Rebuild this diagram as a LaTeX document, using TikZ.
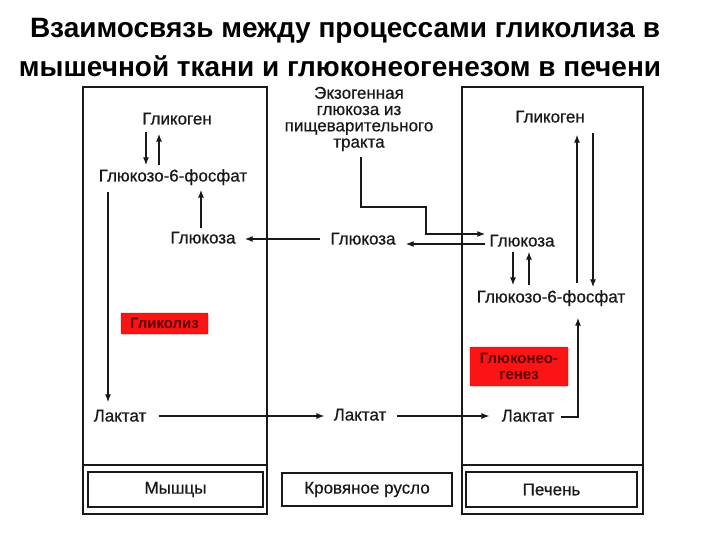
\documentclass[tikz,border=0pt]{standalone}
\usepackage{fontspec}
\setmainfont{Liberation Sans}
\newfontface\heavyface{Liberation Sans}[FakeBold=0.6]
\usetikzlibrary{arrows.meta}
\definecolor{inkc}{RGB}{25,25,25}
\definecolor{redfill}{RGB}{250,20,20}
\definecolor{redtext}{RGB}{95,0,0}
\begin{document}
\begin{tikzpicture}[x=1pt,y=-1pt,
  lbl/.style={font=\heavyface\fontsize{17}{17}\selectfont, text=inkc, inner sep=0pt, text height=12pt, text depth=3pt},
  ttl/.style={font=\bfseries\fontsize{28}{28}\selectfont, inner sep=0pt},
  arr/.style={draw=inkc, line width=1.2pt, -{Latex[length=8pt,width=6pt]}},
  panel/.style={draw=inkc, line width=1.7pt, inner sep=0pt},
  namebox/.style={draw=inkc, line width=1.4pt, inner sep=0pt, font=\heavyface\fontsize{17}{17}\selectfont, text=inkc},
  redbox/.style={fill=redfill, draw=red!80!black, line width=0.4pt, rounded corners=1pt, text=redtext, font=\bfseries\fontsize{15}{16}\selectfont, align=center, inner sep=0pt}
]
\useasboundingbox (0,0) rectangle (720,540);
\fill[white] (0,0) rectangle (720,540);

% title
\node[ttl] (t1) at (345,31) {Взаимосвязь между процессами гликолиза в};
\node[ttl] (t2) at (340,66) {мышечной ткани и глюконеогенезом в печени};

% panels
\node[panel, minimum width=184pt, minimum height=427pt] (lpanel) at (175,300.5) {};
\node[panel, minimum width=181pt, minimum height=427pt] (rpanel) at (552.5,300.5) {};
\draw[panel] (lpanel.west |- 0,465) -- (lpanel.east |- 0,465);
\draw[panel] (rpanel.west |- 0,465) -- (rpanel.east |- 0,465);
\node[namebox, minimum width=175pt, minimum height=35pt] (muscle) at (175.5,489.5) {Мышцы};
\node[namebox, minimum width=170pt, minimum height=33pt] (blood) at (367,489.5) {Кровяное русло};
\node[namebox, minimum width=171pt, minimum height=35pt] (liver) at (551.5,489.5) {Печень};

% red boxes
\node[redbox, minimum width=87pt, minimum height=21pt] (glycolysis) at (164.5,323.5) {Гликолиз};
\node[redbox, minimum width=98pt, minimum height=39pt] (gng) at (519,366.5) {Глюконео-\\генез};

% left (muscle)
\node[lbl] (lGlycogen) at (177,120) {Гликоген};
\node[lbl] (lG6P) at (173,177) {Глюкозо-6-фосфат};
\node[lbl] (lGlc) at (203,239) {Глюкоза};
\node[lbl] (lLac) at (120,417) {Лактат};

% middle (blood)
\node[lbl, align=center, font=\heavyface\fontsize{17}{16.3}\selectfont, text height=, text depth=] (mExo) at (359,119) {Экзогенная\\глюкоза из\\пищеварительного\\тракта};
\node[lbl] (mGlc) at (363,240) {Глюкоза};
\node[lbl] (mLac) at (360,416) {Лактат};

% right (liver)
\node[lbl] (rGlycogen) at (550,118) {Гликоген};
\node[lbl] (rGlc) at (522,242) {Глюкоза};
\node[lbl] (rG6P) at (551,298) {Глюкозо-6-фосфат};
\node[lbl] (rLac) at (528,417) {Лактат};

% muscle arrows
\draw[arr, shorten <=4pt, shorten >=4pt] (lGlycogen.south -| 146,0) -- (lG6P.north -| 146,0);
\draw[arr, shorten <=4pt, shorten >=6pt] (lG6P.north -| 159,0) -- (lGlycogen.south -| 159,0);
\draw[arr, shorten <=3pt, shorten >=5pt] (lGlc.north -| 201,0) -- (lG6P.south -| 201,0);
\draw[arr, shorten <=7pt, shorten >=7pt] (lG6P.south -| 108,0) -- (lLac.north -| 108,0);

% blood arrows
\draw[arr, shorten <=10pt, shorten >=9pt] (mGlc.west |- 0,239) -- (lGlc.east |- 0,239);
\draw[arr, shorten <=4pt, shorten >=10pt] (rGlc.west |- 0,244) -- (mGlc.east |- 0,244);
\draw[arr, shorten <=6pt, shorten >=4pt] (mExo.south -| 361,0) -- (361,207) -| (426,234) -- (rGlc.west |- 0,234);
\draw[arr, shorten <=12pt, shorten >=9pt] (lLac.east |- 0,416) -- (mLac.west |- 0,416);
\draw[arr, shorten <=10pt, shorten >=12pt] (mLac.east |- 0,416) -- (rLac.west |- 0,416);

% liver arrows
\draw[arr, shorten <=6pt, shorten >=12pt] (rLac.east) -| (rG6P.south -| 578,0);
\draw[arr, shorten <=7pt, shorten >=9pt] (rG6P.north -| 577,0) -- (rGlycogen.south -| 577,0);
\draw[arr, shorten <=7pt, shorten >=3pt] (rGlycogen.south -| 593,0) -- (rG6P.north -| 593,0);
\draw[arr, shorten <=2pt, shorten >=5pt] (rGlc.south -| 513,0) -- (rG6P.north -| 513,0);
\draw[arr, shorten <=5pt, shorten >=2pt] (rG6P.north -| 529,0) -- (rGlc.south -| 529,0);
\end{tikzpicture}
\end{document}
